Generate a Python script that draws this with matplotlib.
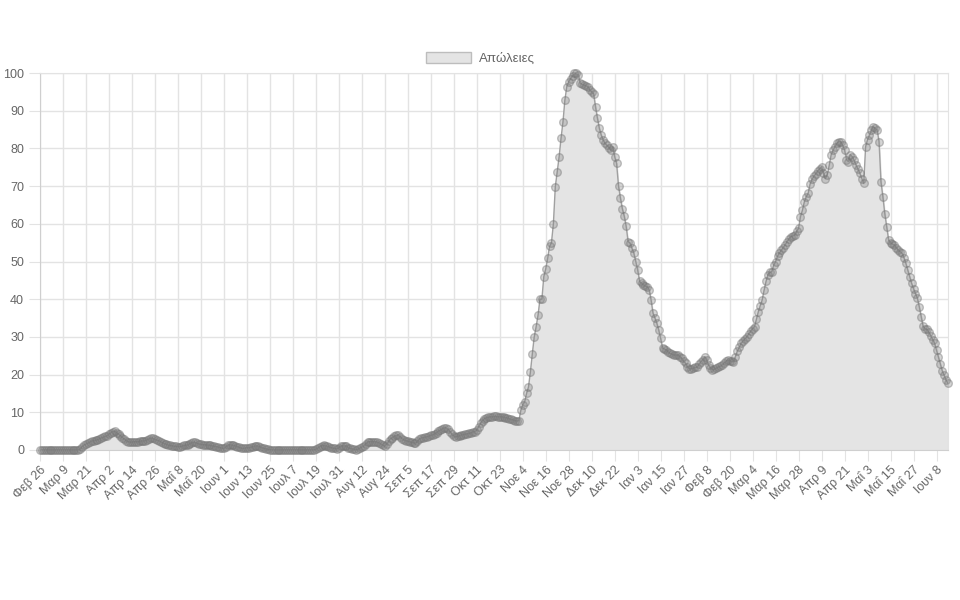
import numpy as np
import pandas as pd
import matplotlib
matplotlib.use('Agg')
import matplotlib.pyplot as plt

plt.rcParams['font.family'] = ['Liberation Sans', 'DejaVu Sans']

# Daily values (deaths), starting 26 Feb 2020
deaths = [
    0, 0, 0, 0, 0, 0, 0, 0, 0, 0, 0, 0,
    0, 0, 0, 0, 0, 0, 0, 0, 0, 0.3, 0.9, 1.3,
    1.6, 1.8, 2.1, 2.4, 2.5, 2.6, 2.7, 3.0, 3.2, 3.4, 3.6, 3.8,
    4.2, 4.6, 4.9, 5.0, 4.6, 4.2, 3.8, 3.3, 2.9, 2.5, 2.2, 2.1,
    2.1, 2.2, 2.2, 2.2, 2.3, 2.4, 2.4, 2.5, 2.7, 3.0, 3.2, 3.1,
    2.8, 2.6, 2.5, 2.2, 1.9, 1.7, 1.5, 1.3, 1.2, 1.1, 1.0, 1.0,
    0.9, 0.9, 1.0, 1.2, 1.3, 1.3, 1.6, 1.9, 2.1, 2.0, 1.8, 1.6,
    1.5, 1.4, 1.4, 1.3, 1.3, 1.2, 1.1, 1.0, 0.9, 0.8, 0.6, 0.5,
    0.4, 0.8, 1.2, 1.4, 1.3, 1.2, 1.1, 0.9, 0.7, 0.5, 0.4, 0.5,
    0.6, 0.6, 0.7, 0.9, 1.0, 1.1, 1.0, 0.8, 0.6, 0.4, 0.3, 0.2,
    0.1, 0, 0, 0, 0, 0, 0, 0, 0, 0, 0, 0,
    0, 0, 0, 0, 0, 0, 0, 0, 0, 0, 0, 0,
    0.2, 0.5, 0.9, 1.1, 1.2, 1.1, 1.0, 0.8, 0.6, 0.5, 0.4, 0.3,
    0.6, 1.0, 1.1, 1.1, 1.0, 0.6, 0.4, 0.3, 0.2, 0.1, 0.2, 0.5,
    0.8, 1.0, 1.6, 2.1, 2.2, 2.2, 2.2, 2.2, 2.1, 1.9, 1.6, 1.2,
    1.0, 1.6, 2.3, 3.0, 3.3, 3.6, 3.9, 4.0, 3.5, 3.0, 2.7, 2.5,
    2.3, 2.2, 2.0, 1.9, 1.8, 2.3, 2.9, 3.2, 3.3, 3.4, 3.5, 3.7,
    3.9, 4.0, 4.3, 4.6, 5.0, 5.3, 5.6, 5.9, 5.9, 5.5, 4.9, 4.2,
    3.7, 3.5, 3.6, 3.8, 4.0, 4.1, 4.2, 4.3, 4.4, 4.6, 4.8, 4.9,
    5.3, 6.2, 7.1, 7.8, 8.3, 8.6, 8.7, 8.8, 8.8, 8.9, 8.9, 8.8,
    8.8, 8.8, 8.7, 8.6, 8.5, 8.3, 8.1, 8.0, 7.8, 7.7, 7.8, 10.5,
    12.0, 12.8, 15.0, 16.7, 20.7, 25.5, 30.0, 32.7, 35.8, 40.0, 40.0, 46.0,
    48.0, 50.8, 54.0, 55.0, 60.0, 69.8, 73.8, 77.8, 82.7, 87.0, 92.8, 96.4,
    97.7, 98.5, 99.2, 100, 100, 99.6, 97.3, 97.0, 96.8, 96.6, 96.4, 95.5,
    95.0, 94.5, 91.0, 88.0, 85.3, 83.5, 82.2, 81.3, 80.8, 80.2, 79.5, 80.4,
    77.8, 76.0, 70.0, 66.8, 64.0, 62.0, 59.3, 55.3, 54.9, 53.5, 52.2, 50.0,
    47.8, 44.7, 44.2, 43.8, 43.5, 43.3, 42.5, 39.8, 36.3, 35.0, 33.6, 31.8,
    29.6, 27.0, 26.8, 26.5, 26.0, 25.6, 25.4, 25.2, 25.2, 25.2, 24.8, 24.3,
    23.5, 23.0, 22.0, 21.6, 21.6, 21.7, 21.9, 22.0, 22.7, 23.4, 24.0, 24.7,
    23.8, 22.5, 21.8, 21.3, 21.4, 21.7, 22.0, 22.2, 22.5, 23.0, 23.5, 23.9,
    23.7, 23.5, 23.4, 24.7, 26.2, 27.2, 28.3, 28.9, 29.5, 30.0, 30.8, 31.5,
    32.2, 32.7, 34.7, 36.7, 38.3, 39.8, 42.4, 44.7, 46.5, 47.1, 47.3, 49.0,
    50.0, 51.4, 52.3, 53.0, 53.7, 54.4, 55.3, 56.0, 56.6, 56.8, 57.0, 58.0,
    58.8, 61.9, 63.6, 65.8, 67.2, 68.1, 70.5, 71.8, 72.6, 73.3, 74.0, 74.6,
    75.1, 73.5, 72.0, 73.0, 75.5, 78.3, 79.5, 80.5, 81.4, 81.8, 81.8, 80.8,
    79.6, 77.0, 76.5, 78.3, 77.8, 76.8, 75.6, 74.5, 73.4, 72.0, 70.7, 80.5,
    82.3, 83.5, 84.8, 85.8, 85.3, 84.9, 81.8, 71.2, 67.2, 62.7, 59.2, 55.7,
    55.0, 54.6, 54.4, 53.7, 53.0, 52.6, 52.2, 51.0, 49.5, 47.7, 46.0, 44.2,
    42.8, 41.5, 40.3, 38.0, 35.4, 32.8, 32.2, 32.0, 31.2, 30.3, 29.3, 28.3,
    26.5, 24.7, 22.8, 21.0, 19.8, 18.5, 17.7,
]

start_date = '2020-02-26'
label_step = 12
greek_months = ['Ιαν', 'Φεβ', 'Μαρ', 'Απρ', 'Μαΐ', 'Ιουν',
                'Ιουλ', 'Αυγ', 'Σεπ', 'Οκτ', 'Νοε', 'Δεκ']
series_name = 'Απώλειες'

dates = pd.date_range(start_date, periods=len(deaths), freq='D')
x = np.arange(len(deaths))
tick_pos = x[::label_step]
tick_labels = [f'{greek_months[d.month - 1]} {d.day}' for d in dates[::label_step]]

grid_c = '#e3e3e3'
text_c = '#666666'

fig = plt.figure(figsize=(9.6, 6), dpi=100)
ax = fig.add_axes([40 / 960, 1 - 450 / 600, 908 / 960, 377 / 600])

ax.fill_between(x, deaths, 0, color='#e4e4e4', zorder=1, label=series_name)
ax.plot(x, deaths, color='#a0a0a0', lw=1.0, zorder=2)
ax.plot(x, deaths, ls='none', marker='o', ms=5.5, clip_on=False,
        mfc=(0.5, 0.5, 0.5, 0.33), mec=(0.45, 0.45, 0.45, 0.42), mew=1.0, zorder=3)

ax.set_xlim(0, len(deaths) - 1)
ax.set_ylim(0, 100)
ax.set_yticks(np.arange(0, 101, 10))
ax.set_xticks(tick_pos)
ax.set_xticklabels(tick_labels, rotation=45, ha='right', rotation_mode='anchor')

ax.grid(True, color=grid_c, lw=1)
ax.set_axisbelow(True)
for s in ax.spines.values():
    s.set_color(grid_c)
ax.spines['left'].set_color('#cfcfcf')
ax.spines['bottom'].set_color('#cfcfcf')
ax.tick_params(axis='both', colors=grid_c, labelcolor=text_c, length=8, labelsize=9)
ax.tick_params(axis='x', pad=2)

# legend box + label above the plot
leg = ax.legend(loc='lower center', bbox_to_anchor=(0.485, 1.0), frameon=False,
                handlelength=3.4, handleheight=1.0, fontsize=9.5, labelcolor=text_c,
                handletextpad=0.6, borderaxespad=0.2)
leg.legend_handles[0].set_edgecolor('#bdbdbd')
leg.legend_handles[0].set_linewidth(1.0)

fig.savefig('out.png', dpi=100)
